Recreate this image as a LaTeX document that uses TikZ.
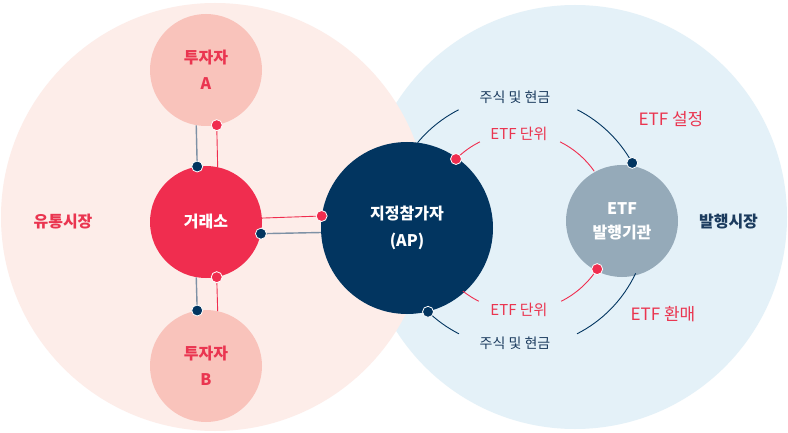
\documentclass[tikz,border=0pt]{standalone}
\usepackage{fontspec}
\setmainfont{Noto Sans CJK KR}
\usetikzlibrary{calc}
\definecolor{pinkbg}{HTML}{FDEDE9}
\definecolor{bluebg}{HTML}{E4F1F8}
\definecolor{invfill}{HTML}{F9C3BB}
\definecolor{exchred}{HTML}{F02D4F}
\definecolor{apnavy}{HTML}{023560}
\definecolor{issfill}{HTML}{95AAB9}
\definecolor{redtext}{HTML}{EA3550}
\definecolor{navytext}{HTML}{1B3B5E}
\definecolor{grayline}{HTML}{7E91A5}
\tikzset{
  bubble/.style={circle, inner sep=0pt, align=center, minimum size=112pt,
    font=\bfseries\fontsize{16}{26.5}\selectfont},
  dotnavy/.style={circle, fill=apnavy, draw=white, line width=0.8pt, minimum size=11pt, inner sep=0pt},
  dotred/.style={circle, fill=exchred, draw=white, line width=0.8pt, minimum size=11pt, inner sep=0pt},
  grayln/.style={draw=grayline, line width=1.4pt},
  redln/.style={draw=exchred, line width=0.9pt},
  navyarc/.style={draw=apnavy, line width=0.9pt},
  redarc/.style={draw=exchred, line width=0.9pt},
  smalllbl/.style={inner sep=0pt, font=\fontsize{14}{16}\selectfont},
  midlbl/.style={inner sep=0pt, font=\fontsize{15}{17}\selectfont},
  biglbl/.style={inner sep=0pt, font=\fontsize{17}{19}\selectfont},
  mktlbl/.style={inner sep=0pt, font=\bfseries\fontsize{16}{18}\selectfont},
}
\begin{document}
\begin{tikzpicture}[x=1pt,y=1pt]
\useasboundingbox (0,0) rectangle (788,432);
\fill[white] (0,0) rectangle (788,432);
% market backgrounds
\fill[bluebg] (575,215) circle[radius=212];
\fill[pinkbg] (215,215) circle[radius=214];

% main nodes
\node[bubble, fill=invfill, text=redtext] (invA) at (206,362) {투자자\\A};
\node[bubble, fill=exchred, text=white] (exch) at (206,210) {거래소};
\node[bubble, fill=invfill, text=redtext] (invB) at (206,66) {투자자\\B};
\node[bubble, fill=apnavy, text=white, minimum size=172pt, font=\bfseries\fontsize{16}{27}\selectfont] (ap) at (407,204) {지정참가자\\(AP)};
\node[bubble, fill=issfill, text=white, font=\bfseries\fontsize{16}{24}\selectfont] (iss) at (622,211) {ETF\\발행기관};

% connectors investor A - exchange
\draw[grayln] (invA.260.75) -- (exch.99.25) node[dotnavy]{};
\draw[redln] (invA.281.3) node[dotred]{} -- (exch.78.7);
% exchange - investor B
\draw[grayln] (exch.260.75) -- (invB.99.25) node[dotnavy]{};
\draw[redln] (exch.281.3) node[dotred]{} -- (invB.78.7);
% exchange - AP
\draw[redln] (exch.4.8) -- (ap.172.9) node[dotred]{};
\draw[grayln] (exch.-12.06) node[dotnavy]{} -- (ap.183.8);

% arcs between AP and issuer
\coordinate (oc1) at (518,206);
\coordinate (oc2) at (518,214);
\coordinate (rc1) at (520,209);
\coordinate (rc2) at (520,213);
\draw[navyarc] (oc1) ++(140.3:130.5) arc[start angle=140.3, end angle=117.1, radius=130.5];
\draw[navyarc] (oc1) ++(62.9:130.5) arc[start angle=62.9, end angle=28.9, radius=130.5] node[dotnavy]{};
\draw[navyarc] (oc2) ++(226.2:130) node[dotnavy]{} arc[start angle=226.2, end angle=243, radius=130];
\draw[navyarc] (oc2) ++(297:130) arc[start angle=297, end angle=334.8, radius=130];
\draw[redarc] (rc1) ++(135:90.5) node[dotred]{} arc[start angle=135, end angle=116.3, radius=90.5];
\draw[redarc] (rc1) ++(63.7:90.5) arc[start angle=63.7, end angle=34.9, radius=90.5];
\draw[redarc] (rc2) ++(231.6:92) arc[start angle=231.6, end angle=243.4, radius=92];
\draw[redarc] (rc2) ++(296.6:92) arc[start angle=296.6, end angle=327, radius=92] node[dotred]{};

% labels
\node[smalllbl, text=navytext] (cashTop) at (515,334.5) {주식 및 현금};
\node[smalllbl, text=navytext] (cashBot) at (515,89) {주식 및 현금};
\node[midlbl, text=redtext] (unitTop) at (519,298.5) {ETF 단위};
\node[midlbl, text=redtext] (unitBot) at (519,122) {ETF 단위};
\node[biglbl, text=redtext] (create) at (671,312.5) {ETF 설정};
\node[biglbl, text=redtext] (redeem) at (663,117.5) {ETF 환매};
\node[mktlbl, text=redtext] (secmkt) at (63,210.5) {유통시장};
\node[mktlbl, text=navytext] (primkt) at (728.5,210.5) {발행시장};
\end{tikzpicture}
\end{document}
